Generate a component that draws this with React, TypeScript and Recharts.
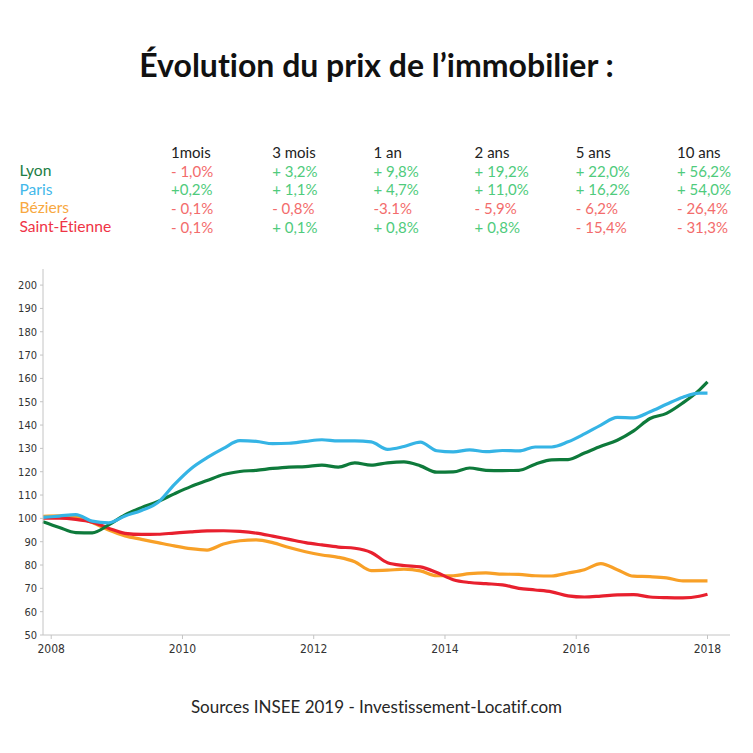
import React from "react";
import { LineChart, Line, XAxis, YAxis } from "recharts";

// dates in decimal years (quarterly samples)
const years = [
  2007.875, 2008.125, 2008.375, 2008.625, 2008.875, 2009.125, 2009.375, 2009.625,
  2009.875, 2010.125, 2010.375, 2010.625, 2010.875, 2011.125, 2011.375, 2011.625,
  2011.875, 2012.125, 2012.375, 2012.625, 2012.875, 2013.125, 2013.375, 2013.625,
  2013.875, 2014.125, 2014.375, 2014.625, 2014.875, 2015.125, 2015.375, 2015.625,
  2015.875, 2016.125, 2016.375, 2016.625, 2016.875, 2017.125, 2017.375, 2017.625,
  2017.875, 2018.0,
];

const lyon = [
  98.6, 96.1, 93.9, 93.8, 97.2, 101.5, 104.6, 107.2,
  110.5, 113.6, 116.2, 118.8, 120.1, 120.6, 121.4, 122.0,
  122.2, 122.8, 122.0, 123.8, 122.8, 123.8, 124.2, 122.5,
  119.8, 119.9, 121.6, 120.6, 120.5, 120.6, 123.2, 125.1,
  125.2, 128.0, 130.9, 133.5, 137.5, 142.8, 145.0, 149.5,
  155.0, 158.5,
];

const paris = [
  100.4, 101.0, 101.6, 98.8, 98.1, 101.0, 103.4, 106.8,
  114.5, 121.2, 126.0, 130.0, 133.3, 133.0, 132.0, 132.2,
  133.0, 133.7, 133.2, 133.2, 132.8, 129.6, 130.8, 132.7,
  129.0, 128.5, 129.4, 128.6, 129.1, 128.9, 130.6, 130.6,
  132.8, 136.2, 140.0, 143.3, 143.1, 145.7, 148.9, 151.9,
  153.7, 153.7,
];

const beziers = [
  100.9, 101.1, 100.6, 98.2, 95.0, 92.5, 91.0, 89.6,
  88.2, 87.0, 86.4, 89.0, 90.4, 90.8, 89.6, 87.5,
  85.7, 84.3, 83.3, 81.4, 77.6, 77.8, 78.2, 77.5,
  75.4, 75.4, 76.3, 76.6, 76.1, 76.0, 75.4, 75.3,
  76.6, 78.0, 80.6, 78.0, 75.2, 75.0, 74.5, 73.2,
  73.2, 73.2,
];

const saintEtienne = [
  100.1, 100.1, 99.6, 98.4, 95.8, 93.6, 93.1, 93.2,
  93.7, 94.2, 94.6, 94.7, 94.4, 93.7, 92.4, 91.0,
  89.6, 88.6, 87.7, 87.2, 85.4, 81.0, 79.8, 79.2,
  76.8, 73.7, 72.5, 72.0, 71.5, 70.0, 69.3, 68.5,
  66.8, 66.3, 66.7, 67.2, 67.3, 66.3, 66.0, 65.9,
  66.6, 67.5,
];

const xTicks = [2008, 2010, 2012, 2014, 2016, 2018];
const yTicks = [50, 60, 70, 80, 90, 100, 110, 120, 130, 140, 150, 160, 170, 180, 190, 200];

// summary table
const periods = ["1mois", "3 mois", "1 an", "2 ans", "5 ans", "10 ans"];
const lyonChanges = ["- 1,0%", "+ 3,2%", "+ 9,8%", "+ 19,2%", "+ 22,0%", "+ 56,2%"];
const parisChanges = ["+0,2%", "+ 1,1%", "+ 4,7%", "+ 11,0%", "+ 16,2%", "+ 54,0%"];
const beziersChanges = ["- 0,1%", "- 0,8%", "-3.1%", "- 5,9%", "- 6,2%", "- 26,4%"];
const saintEtienneChanges = ["- 0,1%", "+ 0,1%", "+ 0,8%", "+ 0,8%", "- 15,4%", "- 31,3%"];

const COLORS = {
  lyon: "#0e7a3b",
  paris: "#35b4e5",
  beziers: "#f8a027",
  saintEtienne: "#e8202e",
};
const LABEL_COLORS = {
  lyon: "#1d7d45",
  paris: "#43b8ea",
  beziers: "#f8a840",
  saintEtienne: "#ef3446",
};
const UP = "#4fcb7c";
const DOWN = "#f36c6c";

const data = years.map((y, i) => ({
  year: y,
  lyon: lyon[i],
  paris: paris[i],
  beziers: beziers[i],
  saintEtienne: saintEtienne[i],
}));

const rows = [
  { name: "Lyon", color: LABEL_COLORS.lyon, values: lyonChanges },
  { name: "Paris", color: LABEL_COLORS.paris, values: parisChanges },
  { name: "Béziers", color: LABEL_COLORS.beziers, values: beziersChanges },
  { name: "Saint-Étienne", color: LABEL_COLORS.saintEtienne, values: saintEtienneChanges },
];

const FONT = "Lato, 'Open Sans', sans-serif";
const TICK_FONT = "'Liberation Sans Narrow', 'DejaVu Sans Condensed', 'Liberation Sans', sans-serif";
const ROW_BASE = 158.5;
const ROW_STEP = 18.6;
const COL_X = 171;
const COL_STEP = 101.2;

const Cell = ({ x, baseline, color, size = 15, children }: any) => (
  <div
    style={{
      position: "absolute",
      left: x,
      top: baseline - size * 0.887,
      fontSize: size,
      lineHeight: `${size}px`,
      color,
      whiteSpace: "nowrap",
    }}
  >
    {children}
  </div>
);

const App: React.FC = () => {
  return (
    <div
      style={{
        position: "relative",
        width: 753,
        height: 753,
        margin: -8,
        background: "#fff",
        fontFamily: FONT,
        fontVariantLigatures: "none",
        overflow: "hidden",
      }}
    >
      <div
        style={{
          position: "absolute",
          left: 0,
          width: 753,
          top: 77 - 32 * 0.887,
          textAlign: "center",
          fontSize: 32,
          lineHeight: "32px",
          fontWeight: 700,
          color: "#111",
        }}
      >
        Évolution du prix de l’immobilier :
      </div>

      {periods.map((p, j) => (
        <Cell key={p} x={COL_X + j * COL_STEP} baseline={ROW_BASE} color="#222">
          {p}
        </Cell>
      ))}
      {rows.map((r, i) => (
        <React.Fragment key={r.name}>
          <Cell x={19.5} baseline={ROW_BASE + (i + 1) * ROW_STEP} color={r.color} size={15.6}>
            {r.name}
          </Cell>
          {r.values.map((v, j) => (
            <Cell
              key={j}
              x={COL_X + j * COL_STEP}
              baseline={ROW_BASE + (i + 1) * ROW_STEP}
              color={v.trim().startsWith("-") ? DOWN : UP}
            >
              {v}
            </Cell>
          ))}
        </React.Fragment>
      ))}

      <div style={{ position: "absolute", left: 0, top: 250 }}>
        <LineChart
          width={753}
          height={420}
          data={data}
          margin={{ top: 19, right: 23, bottom: 5, left: 0 }}
        >
          <XAxis
            dataKey="year"
            type="number"
            domain={[2007.875, 2018.343]}
            ticks={xTicks}
            height={30}
            tickSize={4}
            tickMargin={5}
            axisLine={{ stroke: "#c4c4c4" }}
            tickLine={{ stroke: "#c4c4c4" }}
            tick={{ fontSize: 12, fill: "#333", fontFamily: TICK_FONT }}
          />
          <YAxis
            type="number"
            domain={[50, 206.9]}
            ticks={yTicks}
            width={43}
            tickSize={3}
            tickMargin={3}
            axisLine={{ stroke: "#c4c4c4" }}
            tickLine={{ stroke: "#c4c4c4" }}
            tick={{ fontSize: 11, fill: "#333", fontFamily: TICK_FONT }}
          />
          <Line type="monotone" dataKey="beziers" stroke={COLORS.beziers} strokeWidth={3.2} dot={false} isAnimationActive={false} />
          <Line type="monotone" dataKey="saintEtienne" stroke={COLORS.saintEtienne} strokeWidth={3.2} dot={false} isAnimationActive={false} />
          <Line type="monotone" dataKey="lyon" stroke={COLORS.lyon} strokeWidth={3.2} dot={false} isAnimationActive={false} />
          <Line type="monotone" dataKey="paris" stroke={COLORS.paris} strokeWidth={3.2} dot={false} isAnimationActive={false} />
        </LineChart>
      </div>

      <div
        style={{
          position: "absolute",
          left: 0,
          width: 753,
          top: 713 - 17 * 0.887,
          textAlign: "center",
          fontSize: 17,
          lineHeight: "17px",
          color: "#262626",
        }}
      >
        Sources INSEE 2019 - Investissement-Locatif.com
      </div>
    </div>
  );
};

export default App;
